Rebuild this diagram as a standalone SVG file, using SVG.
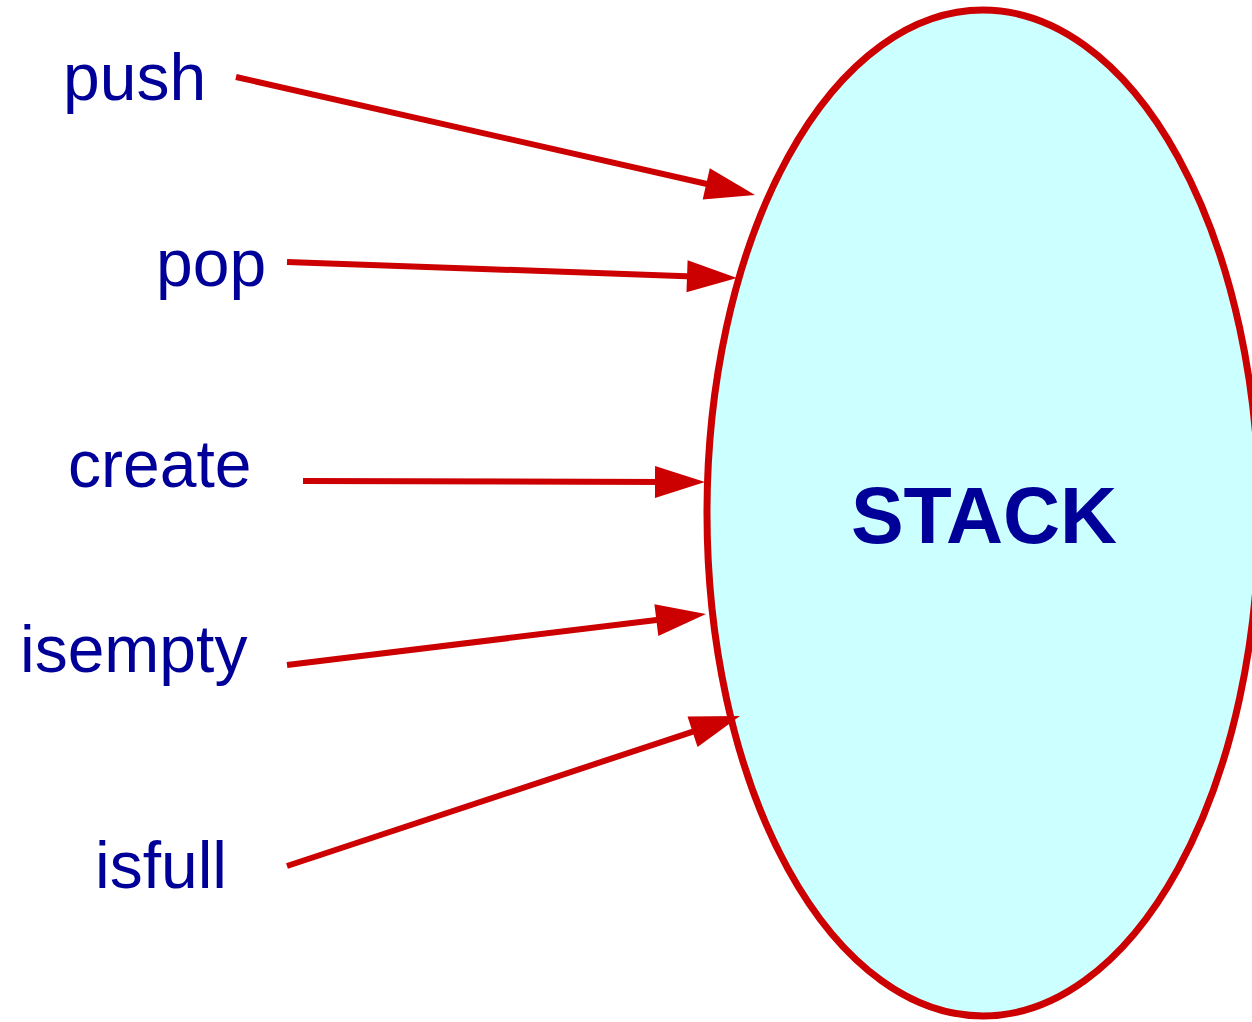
<svg xmlns="http://www.w3.org/2000/svg" width="1252" height="1022" viewBox="0 0 1252 1022">
<style>
.lbl{font-family:"Liberation Sans",Arial,sans-serif;font-size:66px;fill:#000099}
.title{font-family:"Liberation Sans",Arial,sans-serif;font-size:79px;font-weight:bold;fill:#000099}
.edge{stroke:#CC0000;stroke-width:6;fill:none}
.head{fill:#CC0000}
</style>
<rect width="1252" height="1022" fill="#ffffff"/>
<g id="stack">
<ellipse cx="983" cy="513" rx="276" ry="503" fill="#CCFFFF" stroke="#CC0000" stroke-width="7"/>
<text class="title" x="984" y="543" text-anchor="middle">STACK</text>
</g>
<g id="push"><text class="lbl" x="63" y="100">push</text></g>
<g id="pop"><text class="lbl" x="156" y="286">pop</text></g>
<g id="create"><text class="lbl" x="68" y="487">create</text></g>
<g id="isempty"><text class="lbl" x="20" y="672">isempty</text></g>
<g id="isfull"><text class="lbl" x="95" y="888">isfull</text></g>
<g id="connectors">
<path class="edge" d="M236,77 L718,186.5"/>
<polygon class="head" points="0,0 -50,-16 -50,16" transform="translate(755,195) rotate(12.81)"/>
<path class="edge" d="M287,262 L700,276.7"/>
<polygon class="head" points="0,0 -50,-16 -50,16" transform="translate(737,278) rotate(2.04)"/>
<path class="edge" d="M303,481 L668,481.9"/>
<polygon class="head" points="0,0 -50,-16 -50,16" transform="translate(705,482) rotate(0.14)"/>
<path class="edge" d="M287,665 L669,618.5"/>
<polygon class="head" points="0,0 -50,-16 -50,16" transform="translate(706,614) rotate(-6.94)"/>
<path class="edge" d="M287,866 L705,727.6"/>
<polygon class="head" points="0,0 -50,-16 -50,16" transform="translate(740,716) rotate(-18.32)"/>
</g>
</svg>
